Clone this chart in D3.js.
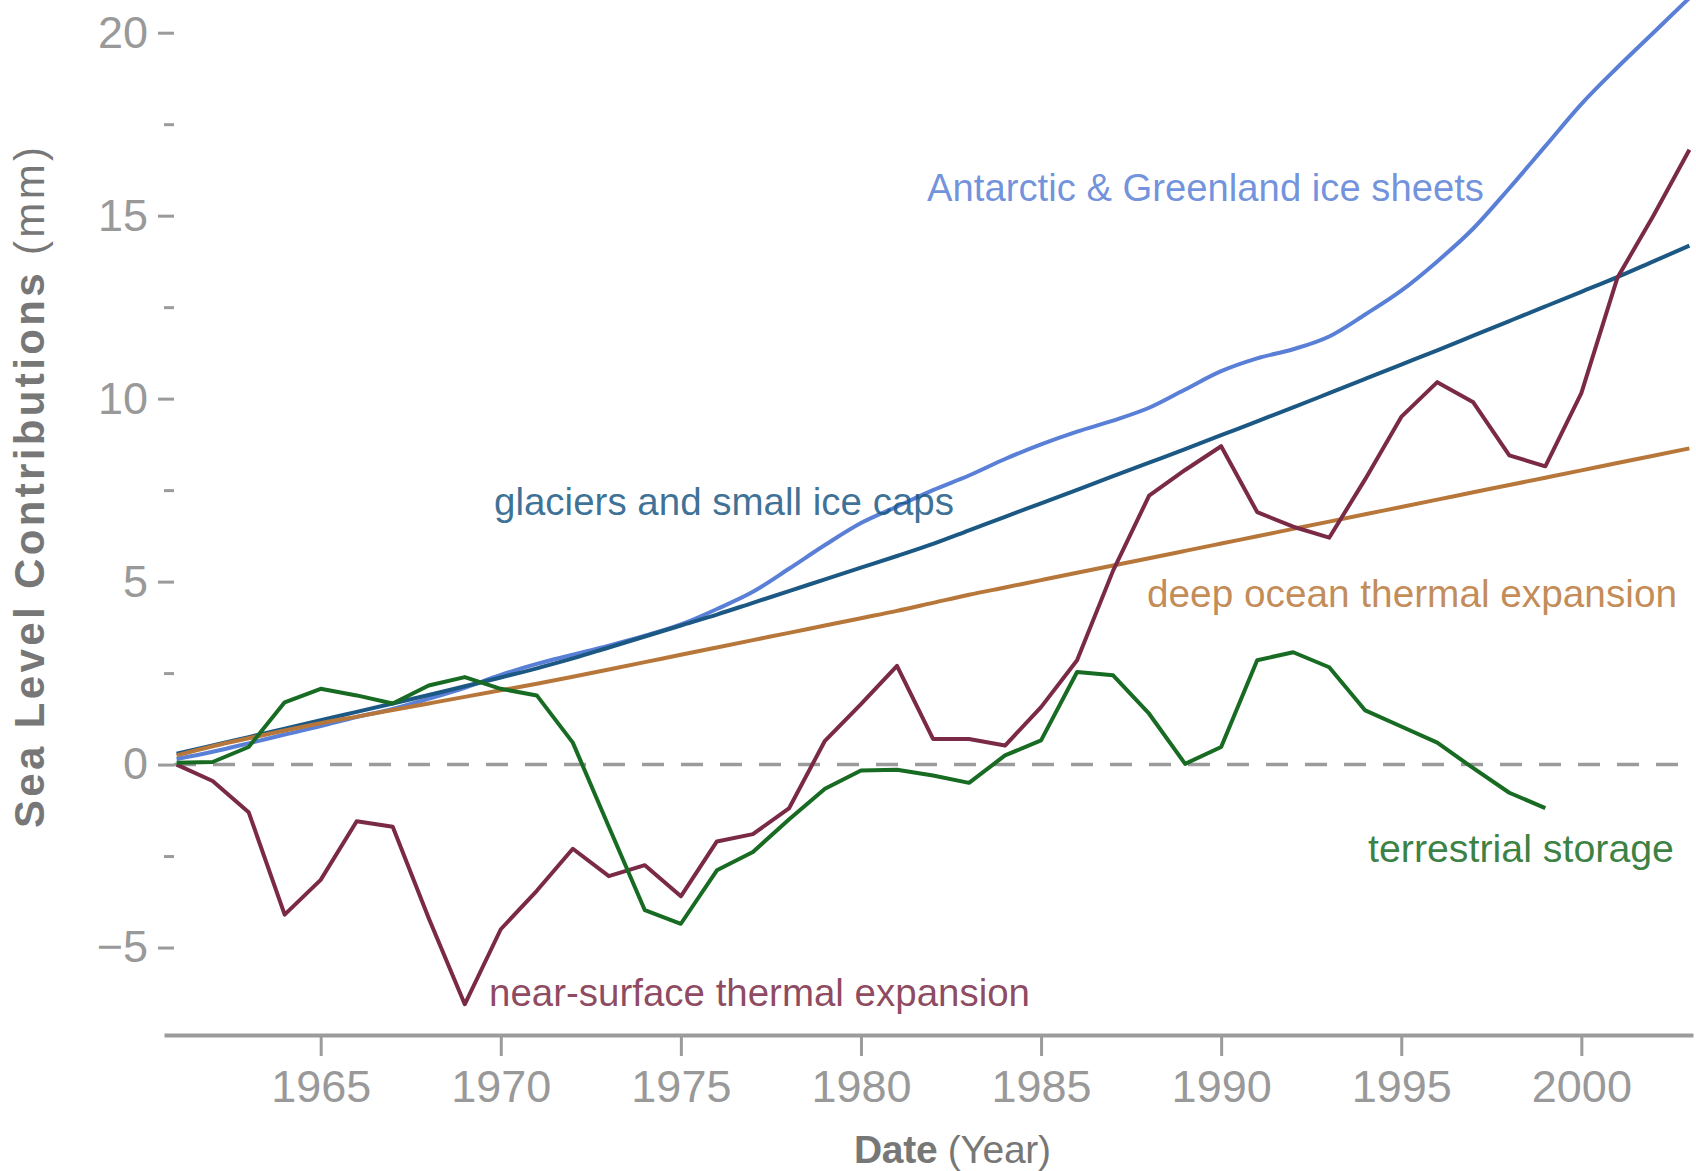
<!DOCTYPE html>
<html>
<head>
<meta charset="utf-8">
<script src="https://cdn.jsdelivr.net/npm/d3@7"></script>
<style>
  body { margin: 0; background: #fff; }
  text { font-family: "Liberation Sans Narrow", "Arial Narrow", "Liberation Sans", sans-serif; }
</style>
</head>
<body>
<svg id="chart" width="1696" height="1171"></svg>
<script>
// years 1961-2003
const years = d3.range(1961, 2004);

const iceSheets = [0.15, 0.35, 0.58, 0.82, 1.05, 1.30, 1.52, 1.80, 2.10, 2.45, 2.75, 3.00, 3.25, 3.52, 3.83,
  4.25, 4.72, 5.35, 6.00, 6.60, 7.05, 7.50, 7.90, 8.35, 8.75, 9.10, 9.40, 9.75, 10.25, 10.75,
  11.10, 11.35, 11.70, 12.30, 12.95, 13.75, 14.65, 15.75, 16.90, 18.05, 19.05, 20.00, 20.95];

const glaciers = [0.30, 0.52, 0.75, 0.98, 1.21, 1.44, 1.67, 1.90, 2.14, 2.38, 2.63, 2.90, 3.20, 3.50, 3.80,
  4.10, 4.42, 4.74, 5.06, 5.38, 5.70, 6.03, 6.40, 6.77, 7.14, 7.51, 7.88, 8.25, 8.62, 9.00,
  9.38, 9.76, 10.15, 10.54, 10.93, 11.32, 11.72, 12.12, 12.52, 12.92, 13.32, 13.75, 14.18];

const deepOcean = [0.25, 0.50, 0.72, 0.93, 1.13, 1.31, 1.49, 1.67, 1.85, 2.03, 2.21, 2.40, 2.60, 2.80, 3.00,
  3.20, 3.40, 3.60, 3.80, 4.00, 4.20, 4.42, 4.64, 4.84, 5.04, 5.24, 5.44, 5.64, 5.84, 6.04,
  6.24, 6.44, 6.64, 6.84, 7.04, 7.24, 7.44, 7.64, 7.84, 8.04, 8.24, 8.44, 8.64];

const nearSurface = [0.0, -0.45, -1.3, -4.1, -3.15, -1.55, -1.7, -4.2, -6.55, -4.5, -3.45, -2.3, -3.05, -2.75, -3.6,
  -2.1, -1.9, -1.2, 0.65, 1.65, 2.7, 0.7, 0.7, 0.52, 1.57, 2.85, 5.3, 7.35, 8.05, 8.7,
  6.9, 6.5, 6.2, 7.8, 9.5, 10.45, 9.9, 8.45, 8.15, 10.15, 13.3, 15.0, 16.8];

// terrestrial storage stops at 1999
const terrestrial = [0.05, 0.07, 0.48, 1.7, 2.07, 1.89, 1.67, 2.16, 2.39, 2.07, 1.89, 0.6, -1.7, -3.98, -4.35,
  -2.89, -2.39, -1.5, -0.66, -0.16, -0.14, -0.3, -0.5, 0.25, 0.66, 2.53, 2.44, 1.39, 0.02, 0.48,
  2.85, 3.07, 2.66, 1.48, 1.04, 0.6, -0.1, -0.77, -1.19];

const xTicks = [1965, 1970, 1975, 1980, 1985, 1990, 1995, 2000];
const yTicks = [-5, 0, 5, 10, 15, 20];
const yMinorTicks = [-2.5, 2.5, 7.5, 12.5, 17.5];

const seriesNames = ["Antarctic & Greenland ice sheets", "glaciers and small ice caps",
  "deep ocean thermal expansion", "near-surface thermal expansion", "terrestrial storage"];
const seriesValues = [iceSheets, glaciers, deepOcean, nearSurface, terrestrial];
const seriesColors = ["#5a7fd6", "#1b5884", "#b8773a", "#7a2a46", "#176b22"];
const seriesSmooth = [true, true, true, false, false];

const svg = d3.select("#chart");

const x = d3.scaleLinear()
    .domain([1960.65, 2003.1])
    .range([164, 1693]);

const y = d3.scaleLinear()
    .domain([-7.39, 20])
    .range([1035, 32.7]);

// zero reference line
svg.append("line")
    .attr("x1", 174).attr("x2", 1693)
    .attr("y1", y(0)).attr("y2", y(0))
    .attr("stroke", "#9b9b9b")
    .attr("stroke-width", 3.5)
    .attr("stroke-dasharray", "22,17");

// y axis: ticks and labels only, no domain line
const yAxis = svg.append("g")
    .attr("transform", "translate(174,0)")
    .call(d3.axisLeft(y).tickValues(yTicks).tickSize(16).tickPadding(10).tickFormat(d => d < 0 ? "\u2212" + Math.abs(d) : d));
yAxis.select(".domain").remove();
yAxis.selectAll(".tick line").attr("stroke", "#9b9b9b").attr("stroke-width", 3);
yAxis.selectAll(".tick text")
    .attr("fill", "#999")
    .attr("font-size", 45)
    .attr("font-family", "'Liberation Sans Narrow', 'Liberation Sans', sans-serif");

const yMinor = svg.append("g")
    .attr("transform", "translate(174,0)")
    .call(d3.axisLeft(y).tickValues(yMinorTicks).tickSize(10).tickFormat(""));
yMinor.select(".domain").remove();
yMinor.selectAll(".tick line").attr("stroke", "#9b9b9b").attr("stroke-width", 3);

// x axis
const xAxis = svg.append("g")
    .attr("transform", "translate(0,1035)")
    .call(d3.axisBottom(x).tickValues(xTicks).tickSize(21).tickSizeOuter(0).tickPadding(14).tickFormat(d3.format("d")));
xAxis.select(".domain").attr("stroke", "#9b9b9b").attr("stroke-width", 4);
xAxis.selectAll(".tick line").attr("stroke", "#9b9b9b").attr("stroke-width", 3);
xAxis.selectAll(".tick text")
    .attr("fill", "#999")
    .attr("font-size", 45)
    .attr("font-family", "'Liberation Sans Narrow', 'Liberation Sans', sans-serif");

// series lines
seriesValues.forEach((vals, i) => {
    const pts = vals.map((v, j) => [years[j], v]);
    const line = d3.line()
        .x(d => x(d[0]))
        .y(d => y(d[1]))
        .curve(seriesSmooth[i] ? d3.curveMonotoneX : d3.curveLinear);
    svg.append("path")
        .datum(pts)
        .attr("fill", "none")
        .attr("stroke", seriesColors[i])
        .attr("stroke-width", 4)
        .attr("stroke-linejoin", "round")
        .attr("d", line);
});

// series labels
const labelPos = [
    {x: 927, y: 201, w: 557},
    {x: 494, y: 515, w: 460},
    {x: 1147, y: 607, w: 530},
    {x: 489, y: 1006, w: 541},
    {x: 1368, y: 862, w: 306}
];
svg.selectAll(".series-label")
    .data(seriesNames)
    .enter()
    .append("text")
    .attr("class", "series-label")
    .attr("x", (d, i) => labelPos[i].x)
    .attr("y", (d, i) => labelPos[i].y)
    .attr("font-size", 39)
    .attr("textLength", (d, i) => labelPos[i].w)
    .attr("lengthAdjust", "spacingAndGlyphs")
    .attr("fill", (d, i) => seriesColors[i])
    .attr("fill-opacity", 0.85)
    .text(d => d);

// axis titles
const yTitle = svg.append("text")
    .attr("transform", "translate(44,828) rotate(-90)")
    .attr("font-size", 42)
    .attr("fill", "#777")
    .attr("textLength", 681)
    .attr("lengthAdjust", "spacing");
yTitle.append("tspan").attr("font-weight", "bold").text("Sea Level Contributions ");
yTitle.append("tspan").text("(mm)");

const xTitle = svg.append("text")
    .attr("x", 854)
    .attr("y", 1163)
    .attr("font-size", 39)
    .attr("fill", "#777")
    .attr("textLength", 197)
    .attr("lengthAdjust", "spacing");
xTitle.append("tspan").attr("font-weight", "bold").text("Date ");
xTitle.append("tspan").text("(Year)");
</script>
</body>
</html>
